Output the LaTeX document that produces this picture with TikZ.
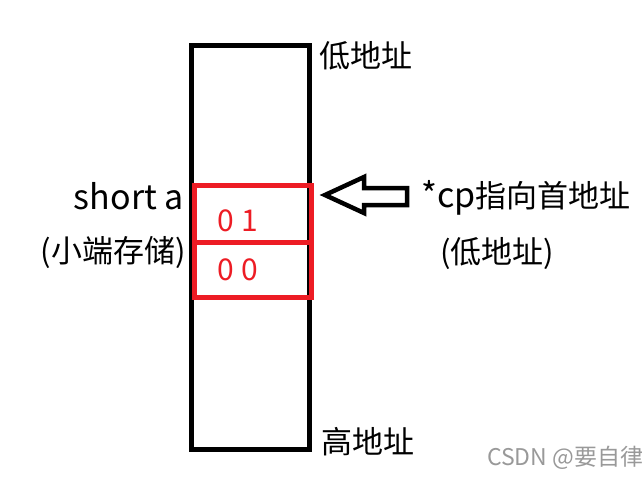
\documentclass[tikz,border=0pt]{standalone}
\usepackage{fontspec}
\setmainfont{Noto Sans CJK SC}
\usetikzlibrary{positioning}
\definecolor{cellred}{HTML}{ED1C24}
\newcommand\wideLatin[1]{{\fontsize{34}{38}\selectfont #1}}

\begin{document}
\begin{tikzpicture}[x=1pt,y=-1pt,
  every node/.style={inner sep=0pt},
  lbl/.style={font=\fontsize{31}{36}\selectfont},
  byte/.style={font=\fontsize{30}{34}\selectfont, text=cellred}]
\useasboundingbox (0,0) rectangle (642,480);

% memory column
\draw [line width=5pt] (191,45) rectangle (309,449);

% the two bytes of a
\draw [cellred, line width=5pt] (194,185) rectangle (311,297);
\draw [cellred, line width=5pt] (194,242) -- (311,242);
\node [byte] (B0) at (238,221) {0 1};
\node [byte] (B1) at (238,270) {0 0};

\node [lbl, anchor=west] (LO) at (319,56) {低地址};
\node [lbl, anchor=west] (HI) at (321,442) {高地址};

\node [lbl, anchor=east] (A) at (184,196) {\wideLatin{short a}};
\node [lbl, anchor=east] (LE) at (186,252) {(小端存储)};

\node [lbl, anchor=west] (CP) at (421,198) {\wideLatin{*cp}指向首地址};
\node [lbl, anchor=west] (CPL) at (440,254) {(低地址)};

% hollow arrow onto the first byte
\coordinate (T) at (325,195);
\draw [line width=4.5pt, line join=miter]
(T) -- ++(39,-18) -- ++(0,11) -- ++(43,0) -- ++(0,17) -- ++(-43,0) -- ++(0,8) -- cycle;

\node [anchor=west, text=black!40, font=\fontsize{23}{26}\selectfont] (WM) at (487,458) {CSDN @要自律};

\end{tikzpicture}
\end{document}
